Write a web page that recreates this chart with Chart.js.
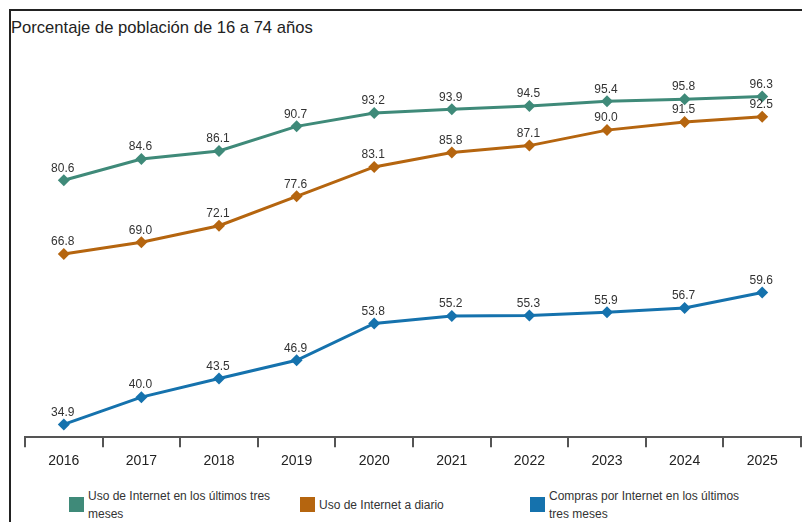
<!DOCTYPE html>
<html lang="es">
<head>
    <meta charset="UTF-8">
    <title>Porcentaje de población de 16 a 74 años</title>
    <script src="https://cdn.jsdelivr.net/npm/chart.js@4.4.1/dist/chart.umd.min.js"></script>
    <style>
        html, body {
            margin: 0;
            overflow: hidden;
            font-family: "Liberation Sans", Arial, sans-serif;
            background: #fff;
        }
        .frame {
            position: absolute;
            left: 9px;
            top: 9px;
            width: 793px;
            height: 513px;
            border-top: 2px solid #222;
            border-left: 2px solid #222;
        }
        .title {
            position: absolute;
            left: 11px;
            top: 18px;
            font-size: 16.6px;
            color: #222;
        }
        .chart-box {
            position: absolute;
            left: 0;
            top: 0;
            width: 807px;
            height: 476px;
        }
        .legend {
            position: absolute;
            top: 487px;
            font-size: 12px;
            color: #333;
            line-height: 18px;
        }
        .legend .sw {
            position: absolute;
            left: 0;
            width: 15px;
            height: 15px;
        }
        .legend .txt {
            position: absolute;
            left: 19px;
        }
    </style>
</head>
<body>
    <div class="frame"></div>
    <div class="title">Porcentaje de población de 16 a 74 años</div>
    <div class="chart-box">
        <canvas id="chart" width="807" height="476"></canvas>
    </div>
    <div id="legend"></div>

    <script>
        const years = ['2016', '2017', '2018', '2019', '2020', '2021', '2022', '2023', '2024', '2025'];
        const usoTresMeses = [80.6, 84.6, 86.1, 90.7, 93.2, 93.9, 94.5, 95.4, 95.8, 96.3];
        const usoDiario = [66.8, 69.0, 72.1, 77.6, 83.1, 85.8, 87.1, 90.0, 91.5, 92.5];
        const comprasTresMeses = [34.9, 40.0, 43.5, 46.9, 53.8, 55.2, 55.3, 55.9, 56.7, 59.6];

        const seriesNames = [
            ['Uso de Internet en los últimos tres', 'meses'],
            ['Uso de Internet a diario'],
            ['Compras por Internet en los últimos', 'tres meses']
        ];
        const seriesColors = ['#3f8a79', '#b5650f', '#1572ad'];
        const seriesData = [usoTresMeses, usoDiario, comprasTresMeses];

        // value labels above each point
        const pointLabels = {
            id: 'pointLabels',
            afterDatasetsDraw(chart) {
                const ctx = chart.ctx;
                ctx.save();
                ctx.font = '12px "Liberation Sans", Arial, sans-serif';
                ctx.fillStyle = '#333';
                ctx.textAlign = 'center';
                ctx.textBaseline = 'middle';
                chart.data.datasets.forEach((ds, i) => {
                    chart.getDatasetMeta(i).data.forEach((pt, j) => {
                        ctx.fillText(ds.data[j].toFixed(1), pt.x - 1, pt.y - 12);
                    });
                });
                ctx.restore();
            }
        };

        new Chart(document.getElementById('chart'), {
            type: 'line',
            data: {
                labels: years,
                datasets: seriesData.map((d, i) => ({
                    label: seriesNames[i].join(' '),
                    data: d,
                    borderColor: seriesColors[i],
                    backgroundColor: seriesColors[i],
                    borderWidth: 3,
                    pointStyle: 'rectRot',
                    pointRadius: 6,
                    pointBorderWidth: 0,
                    tension: 0
                }))
            },
            options: {
                responsive: false,
                animation: false,
                layout: {
                    padding: { top: 50, left: 25, right: 0, bottom: 0 }
                },
                plugins: {
                    legend: { display: false },
                    title: { display: false },
                    tooltip: { enabled: false }
                },
                scales: {
                    x: {
                        offset: true,
                        grid: {
                            offset: true,
                            drawOnChartArea: false,
                            drawTicks: true,
                            tickLength: 10,
                            color: '#555',
                            lineWidth: 2
                        },
                        border: { display: true, color: '#555', width: 2 },
                        ticks: {
                            color: '#222',
                            padding: 6,
                            font: { size: 14, family: '"Liberation Sans", Arial, sans-serif' }
                        }
                    },
                    y: {
                        display: false,
                        min: 32.5,
                        max: 105
                    }
                }
            },
            plugins: [pointLabels]
        });

        // legend with wrapped text
        const legendX = [69, 300, 530];
        const legendEl = document.getElementById('legend');
        seriesNames.forEach((lines, i) => {
            const item = document.createElement('div');
            item.className = 'legend';
            item.style.left = legendX[i] + 'px';
            const sw = document.createElement('div');
            sw.className = 'sw';
            sw.style.background = seriesColors[i];
            sw.style.top = '10px';
            const txt = document.createElement('div');
            txt.className = 'txt';
            txt.style.whiteSpace = 'nowrap';
            txt.style.top = lines.length > 1 ? '0px' : '9px';
            txt.innerHTML = lines.join('<br>');
            item.appendChild(sw);
            item.appendChild(txt);
            legendEl.appendChild(item);
        });
    </script>
</body>
</html>
